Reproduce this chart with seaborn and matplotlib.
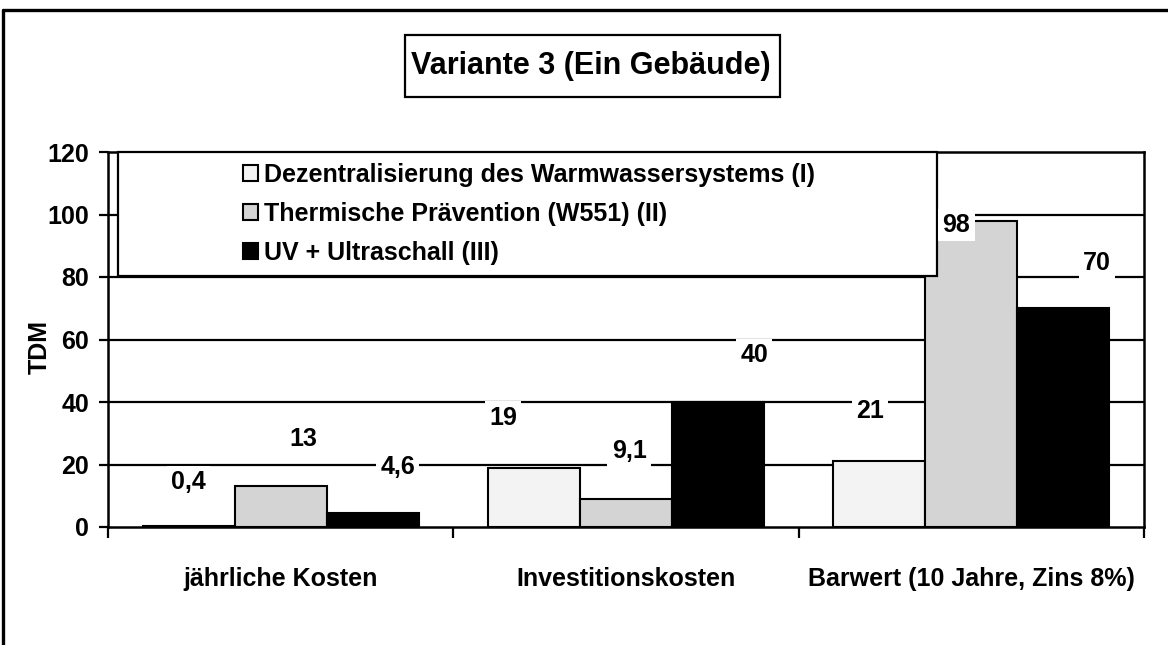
import matplotlib
matplotlib.use("Agg")
import matplotlib.pyplot as plt
import seaborn as sns
import pandas as pd
from matplotlib.patches import Rectangle
from matplotlib.lines import Line2D

categories = ["jährliche Kosten", "Investitionskosten", "Barwert (10 Jahre, Zins 8%)"]
series = ["Dezentralisierung des Warmwassersystems (I)",
          "Thermische Prävention (W551) (II)",
          "UV + Ultraschall (III)"]
values_I = [0.4, 19, 21]
values_II = [13, 9.1, 98]
values_III = [4.6, 40, 70]
labels_I = ["0,4", "19", "21"]
labels_II = ["13", "9,1", "98"]
labels_III = ["4,6", "40", "70"]
yticks = [0, 20, 40, 60, 80, 100, 120]

# label placement offsets (style), per series/category
dx_I = [0.0, -0.09, -0.026]
dx_II = [0.066, 0.009, -0.043]
dx_III = [0.072, 0.104, 0.098]
dy_I = [14, 16, 16]
dy_II = [15, 15.2, -1.4]
dy_III = [14.6, 15, 14.5]

colors = ["#f3f3f3", "#d4d4d4", "#000000"]

sns.set_theme(style="white")
plt.rcParams["font.family"] = ["Liberation Sans", "DejaVu Sans"]
plt.rcParams["font.weight"] = "bold"
for k in ["text.color", "axes.labelcolor", "xtick.color", "ytick.color", "axes.edgecolor"]:
    plt.rcParams[k] = "black"

rows = []
for s, vals in zip(series, [values_I, values_II, values_III]):
    for c, v in zip(categories, vals):
        rows.append({"cat": c, "series": s, "val": v})
df = pd.DataFrame(rows)

W, H = 1168, 645
FS = 18
fig = plt.figure(figsize=(W / 100, H / 100), dpi=100)
ax = fig.add_axes([108 / W, 1 - 527 / H, (1144 - 108) / W, (527 - 152) / H])

sns.barplot(data=df, x="cat", y="val", hue="series", palette=colors,
            edgecolor="black", linewidth=1.5, ax=ax, order=categories,
            hue_order=series, width=0.8, saturation=1, zorder=3)

ax.set_ylim(0, 120)
ax.set_xlim(-0.5, 2.5)
ax.set_yticks(yticks)
ax.set_yticklabels([str(t) for t in yticks], fontsize=FS, fontweight="bold")
for t in yticks[1:-1]:
    ax.axhline(t, color="black", lw=1.6, zorder=1)
ax.set_xticks(range(len(categories)))
ax.set_xticklabels(categories, fontsize=FS, fontweight="bold")
ax.set_xticks([-0.5, 0.5, 1.5, 2.5], minor=True)
ax.tick_params(axis="x", which="major", length=0, pad=29)
ax.tick_params(axis="x", which="minor", length=8, width=1.6, direction="out", color="black", bottom=True)
ax.tick_params(axis="y", length=6.5, width=1.6, direction="out", color="black", left=True, pad=7)
ax.set_xlabel("")
ax.set_ylabel("TDM", fontsize=FS, fontweight="bold")
ax.yaxis.set_label_coords((52 - 108) / 1036, 0.48)
for sp in ax.spines.values():
    sp.set_color("black")
    sp.set_linewidth(1.8)

# value labels
for k, (vals, labs, dxs, dys) in enumerate([(values_I, labels_I, dx_I, dy_I),
                                              (values_II, labels_II, dx_II, dy_II),
                                              (values_III, labels_III, dx_III, dy_III)]):
    cont = ax.containers[k]
    for i, bar in enumerate(cont):
        xc = bar.get_x() + bar.get_width() / 2 + dxs[i]
        yc = bar.get_height() + dys[i]
        ax.text(xc, yc, labs[i], ha="center", va="center", fontsize=FS, fontweight="bold",
                zorder=6, bbox=dict(facecolor="white", edgecolor="none", pad=3))

# legend box
ax.add_patch(Rectangle((10 / 1036, (527 - 276) / 375), (937 - 118) / 1036, (276 - 152) / 375,
                       transform=ax.transAxes, facecolor="white", edgecolor="black",
                       lw=1.6, zorder=4, clip_on=False))
handles, labels = ax.get_legend_handles_labels()
if ax.get_legend() is not None:
    ax.get_legend().remove()
leg = ax.legend(handles, labels, loc="center", bbox_to_anchor=((529 - 108) / 1036, (527 - 214) / 375),
                frameon=False, fontsize=FS, handlelength=0.6, handleheight=0.6,
                handletextpad=0.25, labelspacing=0.6, borderpad=0)
leg.set_zorder(5)
for t in leg.get_texts():
    t.set_fontweight("bold")

# title box
fig.patches.append(Rectangle((405 / W, 1 - 97 / H), (780 - 405) / W, 62 / H,
                             transform=fig.transFigure, facecolor="white", edgecolor="black",
                             lw=1.6, zorder=2))
fig.text(591 / W, 1 - 66 / H, "Variante 3 (Ein Gebäude)", ha="center", va="center",
         fontsize=22, fontweight="bold", zorder=3)

# outer frame (left and top)
fig.lines.append(Line2D([3 / W, 3 / W], [0, 1 - 10 / H], transform=fig.transFigure, color="black", lw=2.4))
fig.lines.append(Line2D([3 / W, 1], [1 - 10 / H, 1 - 10 / H], transform=fig.transFigure, color="black", lw=2.4))

fig.savefig("out.png", dpi=100, facecolor="white")
